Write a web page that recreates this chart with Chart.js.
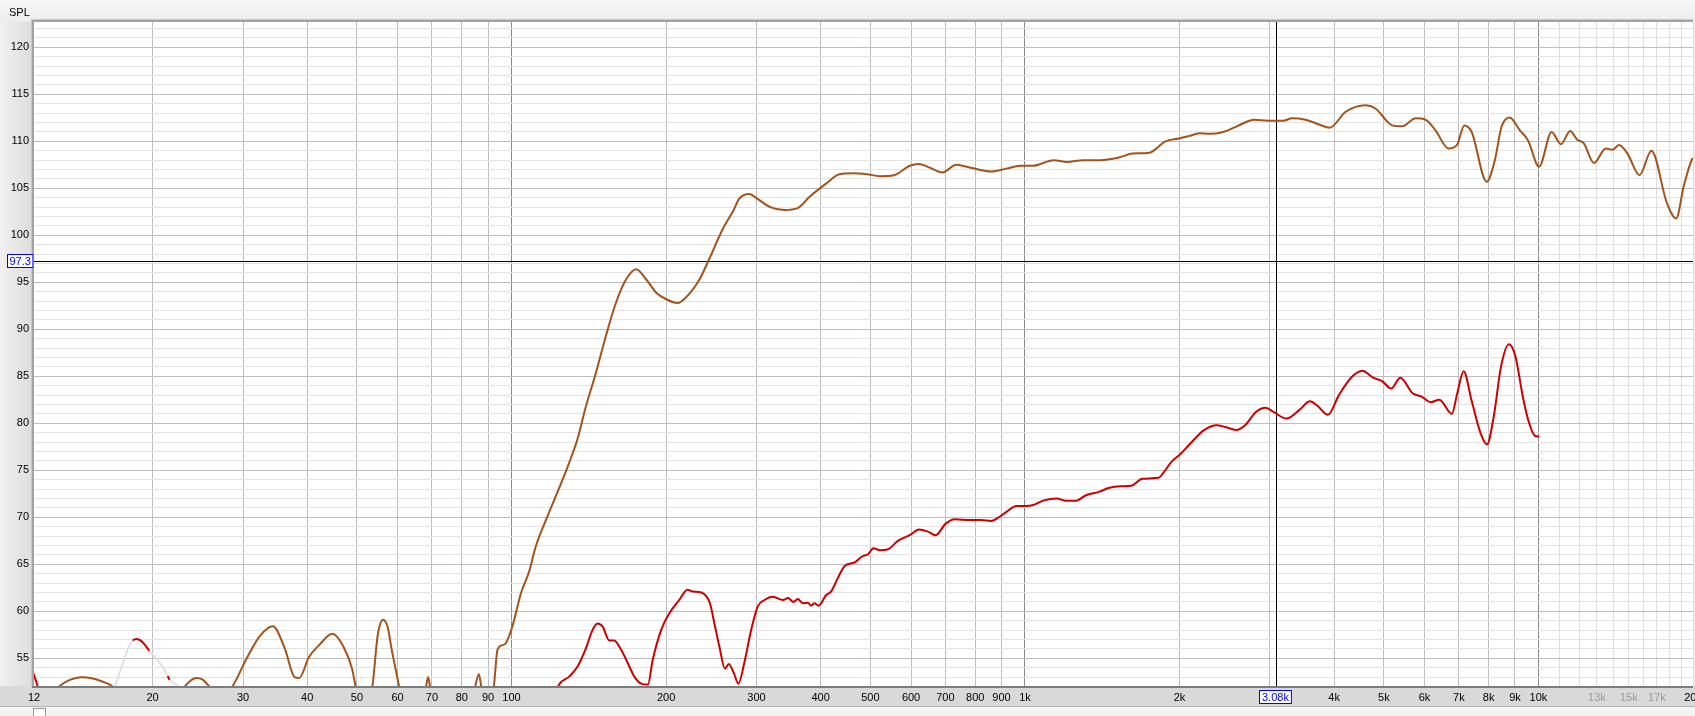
<!DOCTYPE html>
<html>
<head>
<meta charset="utf-8">
<title>SPL</title>
<script src="https://cdn.jsdelivr.net/npm/chart.js@4.4.1/dist/chart.umd.min.js"></script>
<style>
    html, body { margin: 0; padding: 0; overflow: hidden; background: #f0f0f0; }
    #wrap { width: 1695px; height: 716px; overflow: hidden; }
</style>
</head>
<body>
<div id="wrap"><canvas id="splChart" width="1720" height="716"></canvas></div>
<script>
// Upper (brown) response
const brownFreq = [
    11.7, 12.5, 13.15, 13.8, 14.5, 15.3, 16.0, 16.7, 17.5, 19.5, 21.5, 23.1, 24.3, 25.0, 25.8, 27.0, 28.6,
    30.5, 32.4, 34.3, 36.2, 37.8, 38.6, 40.3, 42.2, 44.8, 47.1, 48.9, 49.7, 51.6, 53.6, 54.9, 56.2, 57.4,
    58.4, 60.4, 62.5, 66.5, 68.2, 68.8, 69.4, 72, 82, 85.0, 86.4, 87.3, 89.5, 92.4, 93.9, 96.0, 97.5,
    100.4, 104.3, 108.2, 111.5, 117.5, 123.8, 129.5, 134.4, 139.6, 145.9, 152.7, 159.7, 167.1, 174.9,
    183.0, 191.4, 200.1, 210.6, 218.7, 232.3, 242.3, 257.5, 270.8, 277.7, 290.6, 300.8, 319, 340, 361,
    380.7, 409.7, 435.3, 462.7, 492.1, 521.9, 555.6, 596.5, 621.1, 652.2, 690.5, 734.9, 783.9, 860.4,
    920, 979, 1035, 1137, 1207, 1297, 1399, 1527, 1620, 1747, 1878, 1995, 2086, 2186, 2289, 2431, 2585,
    2798, 2975, 3188, 3311, 3518, 3738, 3921, 4213, 4605, 4815, 5191, 5431, 5765, 6026, 6298, 6682,
    6936, 7174, 7412, 7927, 8225, 8474, 8792, 9193, 9546, 10030, 10610, 11060, 11530, 11890, 12250,
    12830, 13520, 13930, 14350, 14910, 15730, 16600, 17800, 18550, 19180, 19910, 20000
];
const brownSpl = [
    48.5, 50.5, 52.0, 52.7, 52.98, 52.85, 52.5, 52.0, 50.5, 48.5, 49.5, 52.0, 52.9, 52.75, 52.0, 50.8, 52.0,
    55.0, 57.4, 58.4, 56.0, 53.0, 52.9, 55.1, 56.4, 57.6, 56.2, 53.9, 52.0, 47.5, 52.0, 57.5, 59.1, 58.3,
    56.0, 52.0, 47.5, 47.5, 52.0, 53.0, 52.0, 47.5, 47.5, 52.0, 53.3, 52.0, 48, 52.0, 55.9, 56.4, 56.6,
    58.4, 61.9, 64.2, 66.9, 70.1, 73.1, 75.8, 78.3, 81.8, 85.3, 89.3, 92.8, 95.3, 96.4,
    95.3, 93.9, 93.2, 92.8, 93.4, 95.3, 97.4, 100.6, 102.7, 103.9, 104.4, 103.9, 103.0, 102.7, 102.9,
    104.1, 105.5, 106.5, 106.6, 106.5, 106.3, 106.4, 107.4, 107.6, 107.2, 106.7, 107.5, 107.2, 106.8,
    107.1, 107.4, 107.4, 108.0, 107.8, 108.0, 108.0, 108.3, 108.7, 108.8, 110.0, 110.3, 110.56, 110.85, 110.8, 111.0, 111.6,
    112.3, 112.2, 112.2, 112.45, 112.3, 111.8, 111.45, 113.15, 113.85, 113.5, 111.7, 111.6, 112.45, 112.3, 111.2, 109.25,
    109.6, 111.7, 111.0, 105.7, 108.0, 111.55, 112.55, 111.2, 110.1, 107.3, 111.0, 109.7, 111.1, 110.2, 109.8,
    107.7, 109.25, 109.1, 109.6, 108.7, 106.4, 109.0, 103.4, 101.8, 105.2, 108.1, 108.2
];

// Lower (red) response
const redFreq = [
    11.7, 11.95, 12.4, 14, 16.0, 16.9, 17.5, 18.0, 18.3, 18.6, 19.0, 19.4, 19.7, 20.3, 21.1, 21.4, 21.6,
    22.4, 23.5, 40, 80, 118, 123.8, 129.5, 134.4, 139.6, 143.8, 147.1, 150.5, 155.0, 158.5, 163.5, 168.4,
    173.5, 178.9, 184.4, 188.3, 195.6, 203.0, 212.1, 220.2, 225.4, 234.3, 243.5, 248.4, 254.1, 260.5,
    265.0, 271.1, 276.6, 284.0, 292.9, 301.6, 311.0, 322.9, 337.8, 345.6, 354.0, 361, 369.4, 377.6,
    383.3, 388.9, 396.4, 409.7, 419.0, 431.8, 445.1, 466, 480.6, 495.4, 506.9, 521.9, 541.3, 565.6,
    596.5, 622.2, 645.6, 670.0, 700, 730, 780, 820, 860, 892.6, 921.7, 962.3, 1004, 1038, 1089, 1153,
    1202, 1252, 1315, 1392, 1461, 1534, 1611, 1692, 1819, 1864, 1925, 2005, 2104, 2229, 2361, 2457,
    2578, 2684, 2817, 2942, 3052, 3231, 3420, 3590, 3707, 3891, 4087, 4325, 4540, 4765, 4960, 5165,
    5382, 5689, 5920, 6162, 6413, 6782, 6946, 7150, 7412, 7720, 7940, 8183, 8453, 8762, 9025, 9326,
    9558, 9834, 10040
];
const redSpl = [
    53.5, 52.0, 48.5, 45, 48.5, 52.0, 54.5, 56.3, 56.9, 57.05, 56.85, 56.3, 55.8, 55.0, 53.8, 53.1, 52.7,
    52.0, 50, 44, 44, 49, 52.2, 53.05, 54.1, 56.06, 58.0, 58.7, 58.36, 56.9, 56.9, 55.9, 54.5,
    53.05, 52.3, 52.2, 54.8, 58.0, 59.8, 61.2, 62.3, 62.1, 62.0, 60.85, 58.7, 56.2, 53.9,
    54.4, 53.4, 52.3, 54.5, 58.0, 60.5, 61.2, 61.55, 61.2, 61.4, 61.0, 61.3, 60.85, 60.9,
    60.6, 60.85, 60.6, 61.7, 62.1, 63.5, 64.8, 65.2, 65.8, 66.1, 66.7, 66.5, 66.6, 67.5,
    68.1, 68.7, 68.5, 68.1, 69.3, 69.8, 69.7, 69.7, 69.6, 70.06, 70.6, 71.2, 71.2, 71.3, 71.8, 72.0,
    71.75, 71.75, 72.35, 72.7, 73.15, 73.3, 73.35, 74.1, 74.2, 74.8, 75.85, 76.7, 77.9, 79.25, 79.8, 79.6,
    79.3, 79.8, 81.2, 81.65, 81.2, 80.5, 81.4, 82.35, 81.9, 80.9, 83.0, 84.9, 85.6, 84.85, 84.5, 83.7,
    84.85, 83.2, 82.85, 82.25, 82.5, 81.0, 83.15, 85.55, 82.4, 78.9, 77.75, 80.7, 86.0, 88.4, 87.05, 82.8,
    80.3, 78.7, 78.6
];
// parts of the red trace that are shown greyed out
const fadedBands = [[16.0, 18.3], [19.7, 21.4], [21.6, 23.5]];

// Axis range, grid and tick labels
const xMin = 11.75;
const xMax = 20000;
const xGridValues = [
    xMin, 20, 30, 40, 50, 60, 70, 80, 90, 100, 200, 300, 400, 500, 600, 700, 800, 900,
    1000, 2000, 3000, 4000, 5000, 6000, 7000, 8000, 9000, 10000,
    11000, 12000, 13000, 14000, 15000, 16000, 17000, 18000, 19000, 20000
];
const xTickLabels = {
    [xMin]: '12', 20: '20', 30: '30', 40: '40', 50: '50', 60: '60', 70: '70', 80: '80', 90: '90',
    100: '100', 200: '200', 300: '300', 400: '400', 500: '500', 600: '600', 700: '700', 800: '800',
    900: '900', 1000: '1k', 2000: '2k', 4000: '4k', 5000: '5k', 6000: '6k', 7000: '7k', 8000: '8k',
    9000: '9k', 10000: '10k', 13000: '13k', 15000: '15k', 17000: '17k', 20000: '20k'
};
const yGridValues = [];
for (let v = 53; v <= 122; v++) yGridValues.push(v);

// Cursor position
const cursorFreq = 3080;
const cursorSpl = 97.3;
const cursorFreqLabel = '3.08k';
const cursorSplLabel = '97.3';

const toPoints = (xs, ys) => xs.map((x, i) => ({ x: x, y: ys[i] }));

const isFaded = (x0, x1) => fadedBands.some(b => x0 >= b[0] && x1 <= b[1]);

const FONT = '"Liberation Sans", Arial, sans-serif';

// Background, frame and cursor
const rewFrame = {
    id: 'rewFrame',
    beforeDraw(chart) {
        const { ctx, chartArea: a } = chart;
        const w = chart.width, h = chart.height;
        ctx.save();
        ctx.fillStyle = '#f0f0f0';
        ctx.fillRect(0, 0, w, h);

        let g = ctx.createLinearGradient(0, 0, 0, a.top);
        g.addColorStop(0, '#f8f8f8');
        g.addColorStop(1, '#ededed');
        ctx.fillStyle = g;
        ctx.fillRect(0, 0, w, a.top);

        g = ctx.createLinearGradient(0, 0, a.left, 0);
        g.addColorStop(0, '#f1f1f1');
        g.addColorStop(1, '#dcdcdc');
        ctx.fillStyle = g;
        ctx.fillRect(0, a.top, a.left, a.bottom - a.top);

        ctx.fillStyle = '#d9d9d9';
        ctx.fillRect(0, a.bottom, w, 20);
        ctx.fillStyle = '#f3f3f3';
        ctx.fillRect(0, a.bottom + 20, w, h - a.bottom - 20);
        ctx.fillStyle = '#b4b4b4';
        ctx.fillRect(0, a.bottom + 20, w, 1);
        ctx.fillStyle = '#ffffff';
        ctx.fillRect(33, a.bottom + 22, 13, h - a.bottom - 22);
        ctx.strokeStyle = '#9a9a9a';
        ctx.strokeRect(33.5, a.bottom + 22.5, 12, h - a.bottom - 22);
        ctx.fillStyle = '#ffffff';
        ctx.fillRect(a.left, a.top, a.right - a.left, a.bottom - a.top);
        ctx.restore();
    },
    beforeDatasetsDraw(chart) {
        const { ctx, chartArea: a, scales } = chart;
        const cx = Math.round(scales.x.getPixelForValue(cursorFreq)) + 0.5;
        const cy = Math.round(scales.y.getPixelForValue(cursorSpl)) + 0.5;
        ctx.save();
        ctx.strokeStyle = '#000';
        ctx.lineWidth = 1;
        ctx.beginPath();
        ctx.moveTo(cx, a.top);
        ctx.lineTo(cx, a.bottom);
        ctx.moveTo(a.left, cy);
        ctx.lineTo(a.right, cy);
        ctx.stroke();
        ctx.restore();
    },
    afterDraw(chart) {
        const { ctx, chartArea: a, scales } = chart;
        ctx.save();
        // frame
        ctx.fillStyle = '#c9c9c9';
        ctx.fillRect(a.left - 3, a.top - 3, 1, a.bottom - a.top + 3);
        ctx.fillRect(a.left - 3, a.top - 3, a.right - a.left + 3, 1);
        ctx.fillStyle = '#a3a3a3';
        ctx.fillRect(a.left - 2, a.top - 2, 2, a.bottom - a.top + 2);
        ctx.fillRect(a.left - 2, a.top - 2, a.right - a.left + 2, 2);
        ctx.fillStyle = '#7c7c7c';
        ctx.fillRect(a.left - 2, a.bottom, a.right - a.left + 2, 2);

        ctx.font = '11px ' + FONT;
        ctx.fillStyle = '#000';
        ctx.textAlign = 'left';
        ctx.textBaseline = 'middle';
        ctx.fillText('SPL', 9, 13);

        // cursor value boxes
        const cx = scales.x.getPixelForValue(cursorFreq);
        const cy = scales.y.getPixelForValue(cursorSpl);
        ctx.textAlign = 'center';
        ctx.lineWidth = 1;
        ctx.strokeStyle = '#0000ff';

        let tw = ctx.measureText(cursorSplLabel).width + 5;
        let bx = Math.round(a.left - 1 - tw), by = Math.round(cy - 7);
        ctx.fillStyle = '#fff';
        ctx.fillRect(bx, by, tw, 14);
        ctx.strokeRect(bx + 0.5, by + 0.5, tw - 1, 13);
        ctx.fillStyle = '#0000ff';
        ctx.fillText(cursorSplLabel, bx + tw / 2, by + 7.5);

        tw = ctx.measureText(cursorFreqLabel).width + 6;
        bx = Math.round(cx - tw / 2);
        by = Math.round(a.bottom + 4);
        ctx.fillStyle = '#fff';
        ctx.fillRect(bx, by, tw, 14);
        ctx.strokeRect(bx + 0.5, by + 0.5, tw - 1, 13);
        ctx.fillStyle = '#0000ff';
        ctx.fillText(cursorFreqLabel, bx + tw / 2, by + 7.5);
        ctx.restore();
    }
};

// Initialize Chart
const ctx = document.getElementById('splChart').getContext('2d');
new Chart(ctx, {
    type: 'line',
    data: {
        datasets: [
            {
                label: 'Response A',
                data: toPoints(brownFreq, brownSpl),
                borderColor: '#a2541c',
                borderWidth: 2,
                pointRadius: 0,
                cubicInterpolationMode: 'monotone',
            },
            {
                label: 'Response B',
                data: toPoints(redFreq, redSpl),
                borderColor: '#cc0000',
                borderWidth: 2,
                pointRadius: 0,
                cubicInterpolationMode: 'monotone',
                segment: {
                    borderColor: (c) => isFaded(c.p0.parsed.x, c.p1.parsed.x) ? '#e0e0e0' : undefined,
                },
            },
        ],
    },
    options: {
        responsive: false,
        animation: false,
        events: [],
        layout: { padding: { top: 22, right: 27, left: 0, bottom: 0 } },
        plugins: {
            legend: { display: false },
            tooltip: { enabled: false },
        },
        scales: {
            x: {
                type: 'logarithmic',
                min: xMin,
                max: xMax,
                afterBuildTicks: (scale) => {
                    scale.ticks = xGridValues.map(v => ({ value: v }));
                },
                afterFit: (scale) => { scale.height = 30; },
                border: { display: false },
                grid: {
                    drawTicks: false,
                    lineWidth: 1,
                    color: (c) => {
                        const v = c.tick && c.tick.value;
                        if (v === xMin) return 'rgba(0,0,0,0)';
                        if (v === 100 || v === 1000 || v === 10000) return '#8a8a8a';
                        if (v > 10000) return '#dedede';
                        return '#bdbdbd';
                    },
                },
                ticks: {
                    autoSkip: false,
                    maxRotation: 0,
                    padding: 5,
                    font: { family: FONT, size: 11 },
                    color: (c) => (c.tick && c.tick.value > 10000 && c.tick.value < 20000) ? '#9a9a9a' : '#000',
                    callback: (value) => xTickLabels[value] || '',
                },
            },
            y: {
                min: 52.05,
                max: 122.7,
                afterBuildTicks: (scale) => {
                    scale.ticks = yGridValues.map(v => ({ value: v }));
                },
                afterFit: (scale) => { scale.width = 34; },
                border: { display: false },
                grid: {
                    drawTicks: false,
                    lineWidth: 1,
                    color: (c) => (c.tick && c.tick.value % 5 === 0) ? '#bdbdbd' : '#e3e3e3',
                },
                ticks: {
                    autoSkip: false,
                    padding: 5,
                    font: { family: FONT, size: 11 },
                    color: '#000',
                    callback: (value) => value % 5 === 0 ? String(value) : '',
                },
            },
        },
    },
    plugins: [rewFrame],
});
</script>
</body>
</html>
